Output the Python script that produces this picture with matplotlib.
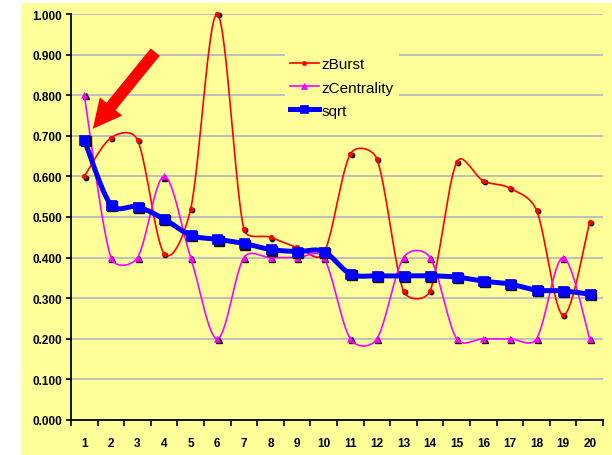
import numpy as np
import matplotlib
matplotlib.use("Agg")
import matplotlib.pyplot as plt
from matplotlib.patches import Rectangle, FancyArrowPatch
from matplotlib import transforms

# ---- data ----
categories = [str(i) for i in range(1, 21)]
zburst = [0.600, 0.695, 0.690, 0.410, 0.520, 1.000, 0.470, 0.450, 0.425, 0.410,
          0.655, 0.643, 0.318, 0.318, 0.635, 0.589, 0.571, 0.517, 0.258, 0.488]
zcentrality = [0.800, 0.400, 0.400, 0.600, 0.400, 0.200, 0.400, 0.400, 0.400, 0.400,
               0.200, 0.200, 0.400, 0.400, 0.200, 0.200, 0.200, 0.200, 0.400, 0.200]
sqrt_vals = [0.690, 0.530, 0.525, 0.495, 0.455, 0.445, 0.435, 0.420, 0.415, 0.415,
             0.360, 0.355, 0.355, 0.355, 0.352, 0.342, 0.335, 0.320, 0.318, 0.310]
yticks = [0.0, 0.1, 0.2, 0.3, 0.4, 0.5, 0.6, 0.7, 0.8, 0.9, 1.0]
ytick_labels = ["%.3f" % v for v in yticks]

BG = "#FFFF99"
N = 30


def smooth(ax, xs, ys, n=N, tension=1.0 / 6, cap=0.43):
    """Excel-like smoothed line: Catmull-Rom Bezier segments in display
    space, with each control offset limited relative to its segment."""
    p = ax.transData.transform(np.column_stack([xs, ys]).astype(float))
    m = len(p)
    t = np.linspace(0, 1, n, endpoint=False)[:, None]

    def limit(v, seglen):
        ln = np.hypot(*v)
        lim = cap * seglen
        return v * (lim / ln) if ln > lim and ln > 0 else v

    out = []
    for i in range(m - 1):
        p1, p2 = p[i], p[i + 1]
        p0 = p[i - 1] if i > 0 else p1
        p3 = p[i + 2] if i + 2 < m else p2
        seg_len = np.hypot(*(p2 - p1))
        c1 = p1 + limit((p2 - p0) * tension, seg_len)
        c2 = p2 - limit((p3 - p1) * tension, seg_len)
        seg = ((1 - t) ** 3) * p1 + 3 * ((1 - t) ** 2) * t * c1 + 3 * (1 - t) * t ** 2 * c2 + t ** 3 * p2
        out.append(seg)
    out.append(p[-1][None, :])
    out = ax.transData.inverted().transform(np.vstack(out))
    return out[:, 0], out[:, 1]


plt.rcParams['font.family'] = ['Liberation Sans', 'DejaVu Sans']

fig = plt.figure(figsize=(6.12, 4.56), dpi=100, facecolor="white")
W, H = 612.0, 456.0
fig.patches.append(Rectangle((21 / W, 0), 1 - 21 / W, (H - 4) / H,
                             transform=fig.transFigure, facecolor=BG,
                             edgecolor="none", zorder=-5))

ax = fig.add_axes([71 / W, (H - 421) / H, (603 - 71) / W, (421 - 15) / H])
ax.set_facecolor(BG)
ax.set_zorder(1)

x = np.arange(len(categories))
ax.set_xlim(-0.5, len(categories) - 0.5)
ax.set_ylim(0, 1.0)

series = [
    ("zBurst", zburst, "#FF0000", 1.2, "o", 3.2, 2),
    ("zCentrality", zcentrality, "#FF00FF", 1.2, "^", 4.0, 3),
    ("sqrt", sqrt_vals, "#0000FF", 3.6, "s", 7.5, 4),
]

shadow = transforms.offset_copy(ax.transData, fig=fig, x=1.2, y=-1.2, units="dots")
for name, vals, col, lw, mk, ms, z in series:
    sx, sy = smooth(ax, x, vals)
    ax.plot(x, vals, linestyle="none", marker=mk, markersize=ms, color="#111111",
            transform=shadow, zorder=z, clip_on=False)
    ax.plot(sx, sy, color=col, lw=lw, marker=mk, markersize=ms,
            markevery=slice(0, None, N), markerfacecolor=col,
            markeredgecolor=col, markeredgewidth=0.5, label=name,
            zorder=z + 0.5, clip_on=False, solid_joinstyle="round")

ax.set_yticks(yticks)
ax.set_yticklabels(ytick_labels, fontsize=8.5, fontweight="bold")
ax.set_xticks(x)
ax.set_xticklabels(categories, fontsize=8.5, fontweight="bold")
ax.set_xticks(np.arange(-0.5, len(categories)), minor=True)
ax.tick_params(axis="x", which="major", length=0, pad=12)
ax.tick_params(axis="x", which="minor", length=4, width=1.2, direction="out")
ax.tick_params(axis="y", which="major", length=3.5, width=1.2, direction="out", pad=3)

ax.yaxis.grid(True, color="#BEBEBE", lw=1.4)
ax.set_axisbelow(True)
for s in ("top", "right"):
    ax.spines[s].set_visible(False)
for s in ("left", "bottom"):
    ax.spines[s].set_linewidth(1.3)
    ax.spines[s].set_color("black")

leg = ax.legend(loc="upper left", bbox_to_anchor=(285 / W, (H - 53) / H),
                bbox_transform=fig.transFigure, frameon=True, facecolor=BG,
                edgecolor="none", framealpha=1, fontsize=11,
                handlelength=1.85, handletextpad=0.2, labelspacing=0.6,
                borderpad=0.35, borderaxespad=0)
leg.set_zorder(10)
for h, ms in zip(leg.legend_handles, (3.0, 4.0, 6.0)):
    h.set_markersize(ms)

# red arrow annotation pointing at the first point
arrow = FancyArrowPatch(posA=(157, H - 51), posB=(91, H - 132),
                        arrowstyle="simple,head_length=1.6,head_width=1.6,tail_width=0.65",
                        mutation_scale=13, color="#FF0000", lw=0, zorder=12)
arrow.set_transform(transforms.IdentityTransform())
fig.artists.append(arrow)
arrow.set_figure(fig)

fig.savefig("out.png", dpi=100, facecolor="white")
